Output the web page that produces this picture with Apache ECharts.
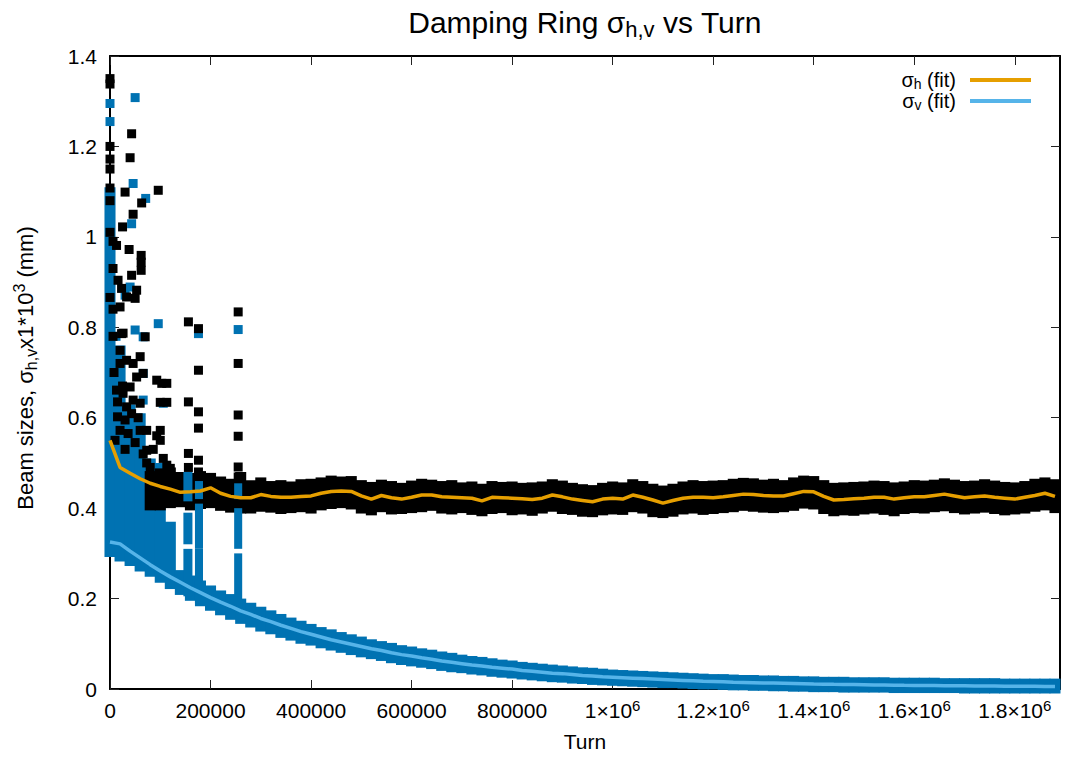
<!DOCTYPE html>
<html>
<head>
<meta charset="utf-8">
<title>Damping Ring σh,v vs Turn</title>
<script src="https://cdn.jsdelivr.net/npm/echarts@6/dist/echarts.min.js"></script>
<style>
  html, body { margin: 0; padding: 0; background: #fff; }
  #chart { width: 1067px; height: 757px; }
</style>
</head>
<body>
<div id="chart"></div>
<script>
// ---- data -------------------------------------------------------------
// Column grid (thousands of turns) used by the dense bands and fit curves
const turnsK = [0,20,40,60,80,100,120,140,160,180,200,220,240,260,280,300,320,340,360,380,
  400,420,440,460,480,500,520,540,560,580,600,620,640,660,680,700,720,740,760,780,
  800,820,840,860,880,900,920,940,960,980,1000,1020,1040,1060,1080,1100,1120,1140,1160,1180,
  1200,1220,1240,1260,1280,1300,1320,1340,1360,1380,1400,1420,1440,1460,1480,1500,1520,1540,1560,1580,
  1600,1620,1640,1660,1680,1700,1720,1740,1760,1780,1800,1820,1840,1860,1880];

// sigma_h fit (mm x 1e3)
const fitH = [0.550,0.490,0.477,0.465,0.455,0.448,0.442,0.435,0.436,0.438,
  0.445,0.433,0.426,0.423,0.423,0.430,0.426,0.424,0.424,0.426,
  0.427,0.433,0.437,0.438,0.437,0.427,0.420,0.428,0.423,0.420,
  0.424,0.429,0.429,0.425,0.424,0.423,0.422,0.416,0.424,0.423,
  0.422,0.421,0.419,0.422,0.429,0.425,0.420,0.417,0.414,0.420,
  0.422,0.420,0.429,0.424,0.418,0.411,0.417,0.422,0.424,0.424,
  0.423,0.425,0.428,0.431,0.430,0.428,0.427,0.427,0.432,0.437,
  0.436,0.426,0.418,0.419,0.421,0.422,0.424,0.424,0.420,0.423,
  0.425,0.425,0.428,0.431,0.427,0.423,0.425,0.427,0.424,0.422,
  0.420,0.424,0.428,0.433,0.426];

// sigma_v fit (mm x 1e3)
const fitV = [0.325,0.321,0.305,0.290,0.275,0.261,0.248,0.236,0.224,0.213,
  0.202,0.192,0.183,0.173,0.165,0.156,0.149,0.141,0.134,0.127,
  0.121,0.115,0.109,0.104,0.099,0.094,0.089,0.085,0.080,0.076,
  0.073,0.069,0.066,0.062,0.059,0.056,0.053,0.051,0.048,0.046,
  0.044,0.041,0.039,0.037,0.035,0.034,0.032,0.030,0.029,0.027,
  0.026,0.025,0.024,0.023,0.022,0.021,0.020,0.019,0.018,0.017,
  0.0165,0.016,0.015,0.0145,0.014,0.0135,0.013,0.0125,0.012,0.0115,
  0.011,0.0107,0.0103,0.010,0.0097,0.0094,0.0091,0.0088,0.0085,0.0082,
  0.008,0.0078,0.0076,0.0074,0.0072,0.007,0.0068,0.0066,0.0065,0.0063,
  0.0062,0.006,0.0059,0.0058,0.0057];

// sigma_h measured points: per-column extremes of the dense band
const hHi = [null,null,null,null,0.472,0.478,0.480,0.470,0.468,0.472,
  0.468,0.460,0.455,0.470,0.452,0.458,0.450,0.452,0.449,0.454,
  0.455,0.458,0.462,0.460,0.461,0.452,0.448,0.453,0.450,0.446,
  0.451,0.455,0.453,0.450,0.452,0.447,0.449,0.444,0.450,0.448,
  0.449,0.446,0.447,0.449,0.454,0.451,0.446,0.443,0.441,0.446,
  0.449,0.447,0.454,0.450,0.444,0.440,0.444,0.449,0.452,0.450,
  0.451,0.452,0.455,0.457,0.456,0.453,0.455,0.452,0.458,0.462,
  0.461,0.452,0.446,0.447,0.448,0.449,0.451,0.450,0.447,0.449,
  0.452,0.451,0.453,0.456,0.453,0.450,0.451,0.454,0.451,0.448,
  0.447,0.450,0.455,0.458,0.454];
const hLo = [null,null,null,null,0.405,0.405,0.410,0.412,0.405,0.408,
  0.410,0.404,0.400,0.398,0.398,0.402,0.400,0.397,0.399,0.401,
  0.398,0.405,0.408,0.410,0.407,0.398,0.394,0.401,0.396,0.397,
  0.399,0.401,0.404,0.398,0.396,0.399,0.395,0.392,0.397,0.399,
  0.394,0.396,0.393,0.398,0.402,0.397,0.395,0.391,0.390,0.394,
  0.396,0.395,0.401,0.398,0.390,0.388,0.391,0.396,0.398,0.395,
  0.397,0.399,0.401,0.404,0.402,0.400,0.399,0.401,0.404,0.409,
  0.407,0.397,0.392,0.394,0.393,0.396,0.398,0.395,0.392,0.397,
  0.399,0.398,0.401,0.403,0.399,0.396,0.398,0.400,0.397,0.394,
  0.396,0.398,0.402,0.405,0.399];

// sigma_v measured points: per-column extremes of the dense band
const vHi = [1.100,0.750,0.620,0.600,0.500,0.490,0.360,0.253,0.241,0.230,
  0.219,0.208,0.200,0.190,0.181,0.172,0.164,0.156,0.148,0.141,
  0.134,0.127,0.122,0.116,0.111,0.106,0.100,0.096,0.092,0.087,
  0.084,0.080,0.077,0.073,0.070,0.066,0.063,0.061,0.058,0.055,
  0.053,0.050,0.048,0.046,0.044,0.042,0.040,0.038,0.037,0.035,
  0.033,0.032,0.031,0.030,0.029,0.028,0.027,0.026,0.025,0.024,
  0.023,0.023,0.022,0.021,0.021,0.020,0.020,0.019,0.019,0.018,
  0.018,0.017,0.017,0.017,0.016,0.016,0.016,0.016,0.015,0.015,
  0.015,0.015,0.015,0.014,0.014,0.014,0.014,0.014,0.014,0.013,
  0.013,0.013,0.013,0.013,0.013];
const vLo = [0.302,0.292,0.282,0.270,0.258,0.245,0.231,0.218,0.205,0.193,
  0.183,0.173,0.163,0.154,0.146,0.137,0.131,0.123,0.117,0.110,
  0.106,0.100,0.095,0.090,0.085,0.080,0.076,0.072,0.067,0.063,
  0.060,0.057,0.054,0.050,0.047,0.045,0.042,0.040,0.037,0.035,
  0.033,0.031,0.029,0.027,0.025,0.024,0.022,0.021,0.019,0.018,
  0.017,0.016,0.015,0.014,0.013,0.012,0.012,0.011,0.010,0.009,
  0.009,0.008,0.007,0.007,0.006,0.006,0.005,0.005,0.004,0.004,
  0.003,0.003,0.003,0.002,0.002,0.002,0.002,0.002,0.001,0.001,
  0.001,0.001,0.001,0.001,0.001,0.000,0.000,0.000,0.000,0.000,
  0.000,0.000,0.000,0.000,0.000];

// sigma_v vertical stripes of points at a few turns: [turn, lo, hi, width]
const vStripes = [
  [155000, 0.215, 0.300, 16000], [155000, 0.330, 0.380, 16000], [155000, 0.425, 0.470, 16000],
  [177000, 0.200, 0.300, 14000], [177000, 0.320, 0.400, 14000], [177000, 0.430, 0.450, 14000],
  [255000, 0.180, 0.290, 14000], [255000, 0.320, 0.390, 14000], [255000, 0.430, 0.445, 14000]
];

// isolated sigma_h points [turn, value]
const hPoints = [
  [0,1.350],[0,1.338],[0,1.200],[0,1.172],[0,1.150],[0,1.108],[0,1.080],[0,1.010],[0,0.866],
  [43000,1.228],[40000,1.175],[30000,1.099],[96000,1.103],[63000,1.075],[46000,1.050],[25000,1.022],
  [38000,0.972],[13000,0.981],[62000,0.959],[62000,0.944],[62000,0.926],[43000,0.915],[53000,0.882],
  [16000,0.904],[23000,0.886],[20000,0.845],[33000,0.867],[50000,0.864],[156000,0.812],[176000,0.797],
  [255000,0.834],[26000,0.787],[70000,0.779],[23000,0.786],[255000,0.720],[176000,0.705],[20000,0.749],
  [33000,0.727],[46000,0.720],[60000,0.735],[20000,0.720],[66000,0.698],[93000,0.683],[103000,0.676],
  [113000,0.676],[13000,0.661],[26000,0.654],[40000,0.668],[15000,0.635],[33000,0.624],[46000,0.639],
  [60000,0.632],[100000,0.634],[113000,0.634],[156000,0.635],[176000,0.613],[255000,0.606],[15000,0.602],
  [30000,0.595],[43000,0.609],[20000,0.572],[36000,0.565],[60000,0.572],[176000,0.577],[255000,0.559],
  [156000,0.521],[176000,0.506],[255000,0.491],[255000,0.469],[10000,0.550],[30000,0.530],[50000,0.545],
  [66000,0.520],[8000,0.700],[53000,0.690],[56000,0.600],[25000,0.670],
  [6000,0.990],[6000,0.930],[6000,0.840],[6000,0.780],
  [73000,0.572],[73000,0.528],[73000,0.500],[80000,0.490],[86000,0.530],[93000,0.560],[100000,0.572],
  [100000,0.550],[106000,0.510],[113000,0.495],[120000,0.488],[156000,0.490],[176000,0.480]
];

// isolated sigma_v points [turn, value]
const vPoints = [
  [0,1.295],[0,1.255],[50000,1.308],[46000,1.118],[71000,1.085],[43000,1.029],[40000,0.889],
  [30000,0.871],[96000,0.808],[50000,0.794],[66000,0.779],[176000,0.786],[255000,0.795],
  [66000,0.698],[66000,0.639],[30000,0.580],[106000,0.632],[12000,0.780],[10000,0.700]
];

// axis ticks
const xTicks = [0,200000,400000,600000,800000,1000000,1200000,1400000,1600000,1800000];
const yTicks = [0,0.2,0.4,0.6,0.8,1.0,1.2,1.4];
const X_MAX = 1890000;

// ---- drawing ----------------------------------------------------------
const F = '"Liberation Sans", Arial, Helvetica, sans-serif';
const BLACK = '#000000', BLUE = '#0072B2', ORANGE = '#E69F00', SKY = '#56B4E9';
const COL_W = 20000;
const SQ = 9;   // point square size, px

const turns = turnsK.map(k => k * 1000);

function bandRows(lo, hi) {
  const rows = [];
  for (let i = 0; i < turns.length; i++) {
    if (lo[i] != null && hi[i] != null) rows.push([turns[i], lo[i], hi[i], COL_W]);
  }
  return rows;
}

// a column of stacked square points, drawn from its lowest to highest point
function columnItem(color) {
  return function (params, api) {
    const t = api.value(0), lo = api.value(1), hi = api.value(2), w = api.value(3);
    const a = api.coord([t - w / 2, hi]);
    const b = api.coord([t + w / 2, lo]);
    return {
      type: 'rect',
      shape: { x: a[0] - 0.5, y: a[1] - SQ / 2, width: b[0] - a[0] + 1, height: b[1] - a[1] + SQ },
      style: { fill: color }
    };
  };
}

// rich text styles: base text, subscript and superscript
function rich(size, lh, subLH, supLH) {
  const small = Math.round(size * 0.72);
  return {
    b:   { fontFamily: F, fontSize: size, color: '#000', lineHeight: lh },
    sub: { fontFamily: F, fontSize: small, color: '#000', lineHeight: subLH, verticalAlign: 'bottom' },
    sup: { fontFamily: F, fontSize: small, color: '#000', lineHeight: supLH, verticalAlign: 'top' }
  };
}

function xLabel(v) {
  if (v >= 1000000) {
    const m = +(v / 1000000).toFixed(1);
    return '{b|' + m + '×10}{sup|6}';
  }
  return '{b|' + v + '}';
}

const tickStyle = { color: '#222', width: 1 };
const lineStyle = { color: '#000', width: 2 };

const chart = echarts.init(document.getElementById('chart'), null, { renderer: 'svg' });

chart.setOption({
  animation: false,
  backgroundColor: '#fff',
  grid: { left: 110, right: 7, top: 56, bottom: 68, containLabel: false, outerBoundsMode: 'none' },
  graphic: [
    {
      type: 'text', x: 585, y: 22, z: 10,
      style: {
        text: '{b|Damping Ring σ}{sub|h,v}{b| vs Turn}',
        rich: rich(30, 36, 16, 10),
        align: 'center', verticalAlign: 'middle', textAlign: 'center', textVerticalAlign: 'middle'
      }
    },
    {
      type: 'text', x: 25, y: 368, rotation: Math.PI / 2, z: 10,
      style: {
        text: '{b|Beam sizes, σ}{sub|h,v}{b|x1*10}{sup|3}{b| (mm)}',
        rich: rich(22, 28, 14, 10),
        align: 'center', verticalAlign: 'middle', textAlign: 'center', textVerticalAlign: 'middle'
      }
    }
  ],
  legend: {
    data: ['σh (fit)', 'σv (fit)'],
    orient: 'vertical',
    right: 31, top: 65,
    align: 'right',
    icon: 'rect',
    itemWidth: 61, itemHeight: 4,
    itemGap: 0,
    formatter: name => name === 'σh (fit)' ? '{b|σ}{sub|h}{b| (fit)}' : '{b|σ}{sub|v}{b| (fit)}',
    textStyle: { rich: rich(20, 22, 8, 8), padding: [0, 9, 0, 0] },
    selectedMode: false
  },
  xAxis: [
    {
      type: 'value', min: 0, max: X_MAX, position: 'bottom',
      axisLine: { show: true, onZero: false, lineStyle },
      axisTick: { show: true, inside: true, length: 9, lineStyle: tickStyle, customValues: xTicks },
      axisLabel: { customValues: xTicks, formatter: xLabel, rich: rich(21, 24, 8, 6), margin: 9 },
      splitLine: { show: false },
      name: 'Turn', nameLocation: 'middle', nameGap: 42,
      nameTextStyle: { fontFamily: F, fontSize: 21, color: '#000' }
    },
    {
      type: 'value', min: 0, max: X_MAX, position: 'top',
      axisLine: { show: true, onZero: false, lineStyle },
      axisTick: { show: true, inside: true, length: 9, lineStyle: tickStyle, customValues: xTicks },
      axisLabel: { show: false },
      splitLine: { show: false }
    }
  ],
  yAxis: [
    {
      type: 'value', min: 0, max: 1.4, interval: 0.2, position: 'left',
      axisLine: { show: true, onZero: false, lineStyle },
      axisTick: { show: true, inside: true, length: 9, lineStyle: tickStyle, customValues: yTicks },
      axisLabel: {
        customValues: yTicks, margin: 13,
        formatter: v => String(+v.toFixed(1)),
        fontFamily: F, fontSize: 21, color: '#000'
      },
      splitLine: { show: false }
    },
    {
      type: 'value', min: 0, max: 1.4, interval: 0.2, position: 'right',
      axisLine: { show: true, onZero: false, lineStyle },
      axisTick: { show: true, inside: true, length: 9, lineStyle: tickStyle, customValues: yTicks },
      axisLabel: { show: false },
      splitLine: { show: false }
    }
  ],
  series: [
    {
      name: 'σv', type: 'custom', clip: false, z: 2,
      renderItem: columnItem(BLUE),
      encode: { x: 0, y: 1 },
      data: bandRows(vLo, vHi)
    },
    {
      name: 'σv points', type: 'scatter', symbol: 'rect', symbolSize: SQ, clip: false, z: 2,
      itemStyle: { color: BLUE, opacity: 1 },
      data: vPoints
    },
    {
      name: 'σh', type: 'custom', clip: false, z: 3,
      renderItem: columnItem(BLACK),
      encode: { x: 0, y: 1 },
      data: bandRows(hLo, hHi)
    },
    {
      name: 'σh points', type: 'scatter', symbol: 'rect', symbolSize: SQ, clip: false, z: 3,
      itemStyle: { color: BLACK, opacity: 1 },
      data: hPoints
    },
    {
      // late sigma_v stripes sit on top of the sigma_h band
      name: 'σv stripes', type: 'custom', clip: false, z: 3,
      renderItem: columnItem(BLUE),
      encode: { x: 0, y: 1 },
      data: vStripes
    },
    {
      name: 'σh (fit)', type: 'line', symbol: 'none', showSymbol: false, z: 4,
      color: ORANGE,
      lineStyle: { color: ORANGE, width: 3.5 },
      itemStyle: { color: ORANGE },
      data: turns.map((t, i) => [t, fitH[i]])
    },
    {
      name: 'σv (fit)', type: 'line', symbol: 'none', showSymbol: false, z: 4,
      color: SKY,
      lineStyle: { color: SKY, width: 3.5 },
      itemStyle: { color: SKY },
      data: turns.map((t, i) => [t, fitV[i]])
    }
  ]
});
</script>
</body>
</html>
